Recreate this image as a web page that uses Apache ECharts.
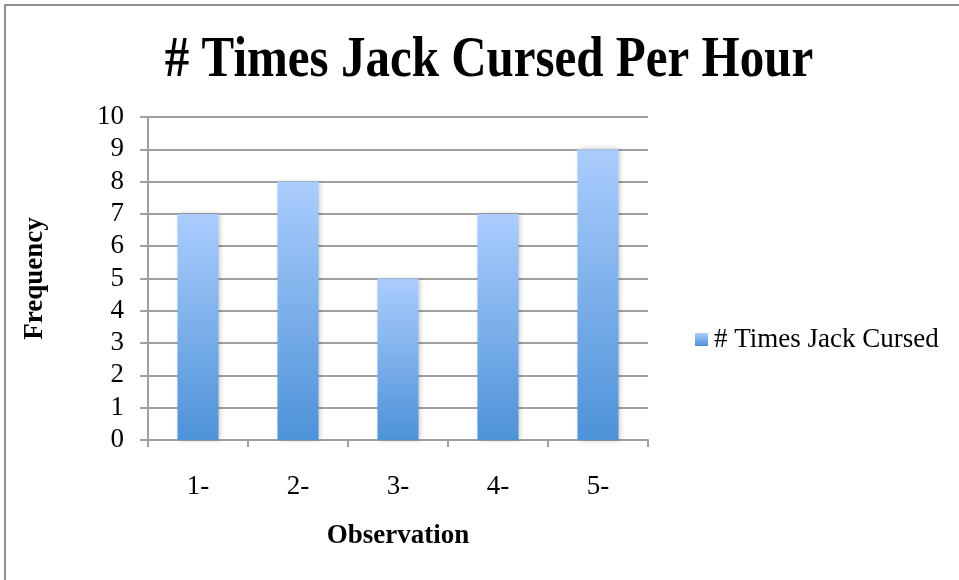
<!DOCTYPE html>
<html>
<head>
<meta charset="utf-8">
<script src="https://cdn.jsdelivr.net/npm/echarts@6/dist/echarts.min.js"></script>
<style>
  html, body { margin: 0; padding: 0; background: #fff; }
  #chart { width: 959px; height: 580px; }
</style>
</head>
<body>
<div id="chart"></div>
<script>
// Observation labels and curse counts per hour
const categories = ['1-', '2-', '3-', '4-', '5-'];
const cursesPerHour = [7, 8, 5, 7, 9];
const seriesName = '# Times Jack Cursed';
const chartTitle = '# Times Jack Cursed Per Hour';
const yTicks = { min: 0, max: 10, interval: 1 };

const serif = '"Liberation Serif", "DejaVu Serif", serif';
const gridColor = '#a0a0a0';

const chart = echarts.init(document.getElementById('chart'), null, { renderer: 'canvas' });

const barFill = new echarts.graphic.LinearGradient(0, 0, 0, 1, [
  { offset: 0, color: '#abcdfd' },
  { offset: 1, color: '#4d92d8' }
]);

chart.setOption({
  animation: false,
  backgroundColor: '#fff',
  graphic: [
    {
      type: 'rect',
      shape: { x: 5, y: 5, width: 1000, height: 700 },
      style: { fill: 'none', stroke: '#8e8e8e', lineWidth: 2 },
      silent: true
    },
    {
      // tall, slightly condensed heading
      type: 'text',
      x: 489,
      y: 61,
      scaleX: 1,
      scaleY: 1.15,
      style: {
        text: chartTitle,
        fontFamily: serif,
        fontWeight: 'bold',
        fontSize: 49,
        fill: '#000',
        align: 'center',
        verticalAlign: 'middle'
      },
      silent: true
    }
  ],
  legend: {
    data: [seriesName],
    left: 690,
    top: 321,
    icon: 'rect',
    itemWidth: 13,
    itemHeight: 13,
    itemGap: 8,
    textStyle: { fontFamily: serif, fontSize: 27, color: '#000', padding: [0, 0, 0, 1] }
  },
  grid: { left: 148, top: 117, width: 500, height: 323, containLabel: false },
  xAxis: {
    type: 'category',
    data: categories,
    name: 'Observation',
    nameLocation: 'middle',
    nameGap: 83,
    nameTextStyle: { fontFamily: serif, fontWeight: 'bold', fontSize: 27, color: '#000' },
    axisLine: { show: true, lineStyle: { color: gridColor, width: 2 } },
    axisTick: { show: true, length: 7, alignWithLabel: false, lineStyle: { color: gridColor, width: 2 } },
    axisLabel: { fontFamily: serif, fontSize: 27, color: '#000', margin: 33 },
    splitLine: { show: false }
  },
  yAxis: {
    type: 'value',
    min: yTicks.min,
    max: yTicks.max,
    interval: yTicks.interval,
    name: 'Frequency',
    nameLocation: 'middle',
    nameGap: 99,
    nameRotate: 90,
    nameTextStyle: { fontFamily: serif, fontWeight: 'bold', fontSize: 27, color: '#000' },
    axisLine: { show: true, lineStyle: { color: gridColor, width: 2 } },
    axisTick: { show: true, length: 8, lineStyle: { color: gridColor, width: 2 } },
    axisLabel: { fontFamily: serif, fontSize: 27, color: '#000', margin: 24 },
    splitLine: { show: true, lineStyle: { color: gridColor, width: 2 } }
  },
  series: [{
    name: seriesName,
    type: 'bar',
    data: cursesPerHour,
    barWidth: 41,
    itemStyle: {
      color: barFill,
      shadowColor: 'rgba(0,0,0,0.25)',
      shadowBlur: 5,
      shadowOffsetX: 1,
      shadowOffsetY: 0
    }
  }]
});
</script>
</body>
</html>
